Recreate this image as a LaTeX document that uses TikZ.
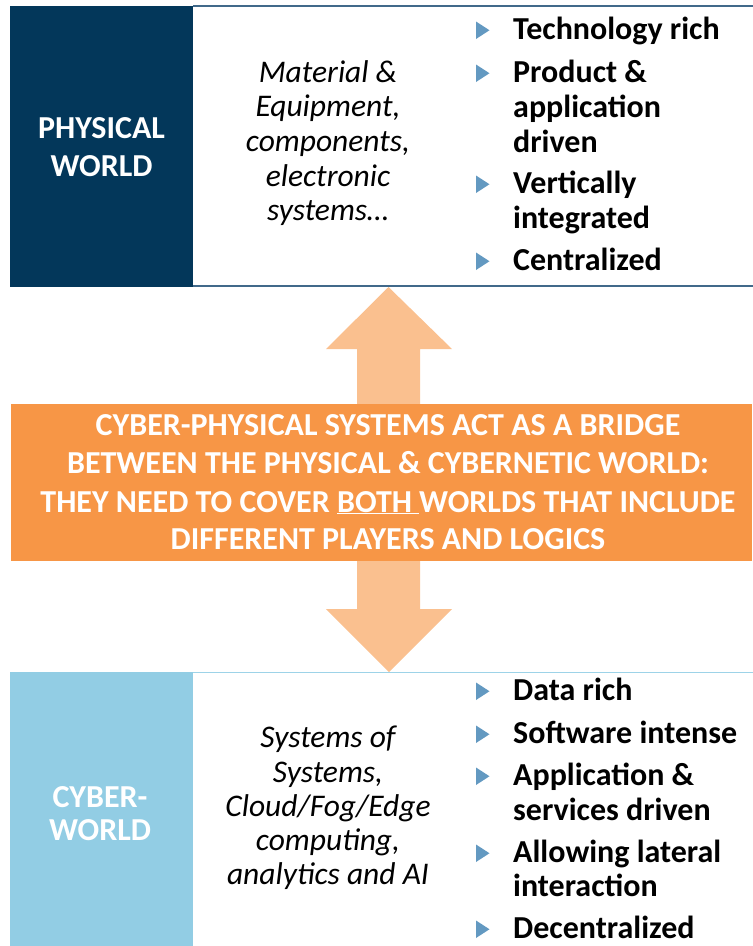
\documentclass[tikz,border=0pt]{standalone}
\usepackage{fontspec}
\setmainfont{Carlito}
\definecolor{darkblue}{HTML}{03375A}
\definecolor{lightblue}{HTML}{92CDE4}
\definecolor{orangemain}{HTML}{F79646}
\definecolor{orangelight}{HTML}{FAC08F}
\definecolor{topline}{HTML}{41698A}
\definecolor{botline}{HTML}{9DD3E8}
\definecolor{bulletblue}{HTML}{6399C1}
\tikzset{
  bul/.style={font=\bfseries\fontsize{32}{38}\selectfont, anchor=base west, inner sep=0pt},
  ital/.style={font=\itshape\fontsize{31.5}{38}\selectfont, anchor=base, inner sep=0pt},
  panel/.style={font=\bfseries\fontsize{32}{38}\selectfont, anchor=base, inner sep=0pt, text=white},
  ctext/.style={font=\bfseries\fontsize{32}{38}\selectfont, anchor=base, inner sep=0pt, text=white},
  tri/.style={fill=bulletblue, draw=none}
}
\newcommand{\bltri}[1]{\fill[tri] (476,#1-17.5) -- (489.5,#1-8.75) -- (476,#1) -- cycle;}
\begin{document}
\begin{tikzpicture}[x=1pt,y=-1pt]
\useasboundingbox (0,0) rectangle (753,946);
% double arrow behind
\fill[orangelight] (388.5,287) -- (452,349) -- (420,349) -- (420,609) -- (452,609) -- (389,672)
   -- (326,609) -- (357,609) -- (357,349) -- (326,349) -- cycle;
% top box
\draw[topline, line width=1.2pt] (193,6) -- (753,6);
\draw[topline, line width=1.2pt] (10,286) -- (753,286);
\fill[darkblue] (10,6) rectangle (193,286.5);
% bottom box
\draw[botline, line width=1.5pt] (193,672.5) -- (753,672.5);
\fill[lightblue] (10,672) rectangle (193,946);
% orange box
\fill[orangemain] (11,404) rectangle (752,561);

% panel labels
\node[panel] (pw1) at (101.5,138) {PHYSICAL};
\node[panel] (pw2) at (101.5,176) {WORLD};
\node[panel] (cw1) at (100,807) {CYBER-};
\node[panel] (cw2) at (100,840) {WORLD};

% italic middle text
\node[ital] (m1) at (328,82) {Material \&};
\node[ital] (m2) at (328,116) {Equipment,};
\node[ital] (m3) at (328,151) {components,};
\node[ital] (m4) at (328,186) {electronic};
\node[ital] (m5) at (328,220) {systems…};

\node[ital] (s1) at (328,747) {Systems of};
\node[ital] (s2) at (328,782) {Systems,};
\node[ital] (s3) at (328,816) {Cloud/Fog/Edge};
\node[ital] (s4) at (328,850) {computing,};
\node[ital] (s5) at (328,884) {analytics and AI};

% top bullets
\bltri{39}
\node[bul] (t1) at (513,39.5) {Technology rich};
\bltri{82}
\node[bul] (t2a) at (513,82.5) {Product \&};
\node[bul] (t2b) at (513,117.5) {application};
\node[bul] (t2c) at (513,152.5) {driven};
\bltri{193}
\node[bul] (t3a) at (513,193.5) {Vertically};
\node[bul] (t3b) at (513,228.5) {integrated};
\bltri{270}
\node[bul] (t4) at (513,270.5) {Centralized};

% bottom bullets
\bltri{700}
\node[bul] (b1) at (513,700.5) {Data rich};
\bltri{743}
\node[bul] (b2) at (513,743.5) {Software intense};
\bltri{785}
\node[bul] (b3a) at (513,785.5) {Application \&};
\node[bul] (b3b) at (513,820.5) {services driven};
\bltri{862}
\node[bul] (b4a) at (513,862.5) {Allowing lateral};
\node[bul] (b4b) at (513,896.5) {interaction};
\bltri{938}
\node[bul] (b5) at (513,938.5) {Decentralized};

% center text
\node[ctext] (c1) at (388,435) {CYBER-PHYSICAL SYSTEMS ACT AS A BRIDGE};
\node[ctext] (c2) at (388,473) {BETWEEN THE PHYSICAL \& CYBERNETIC WORLD:};
\node[ctext] (c3) at (388,512) {THEY NEED TO COVER \underline{BOTH }WORLDS THAT INCLUDE};
\node[ctext] (c4) at (388,549) {DIFFERENT PLAYERS AND LOGICS};
\end{tikzpicture}
\end{document}
